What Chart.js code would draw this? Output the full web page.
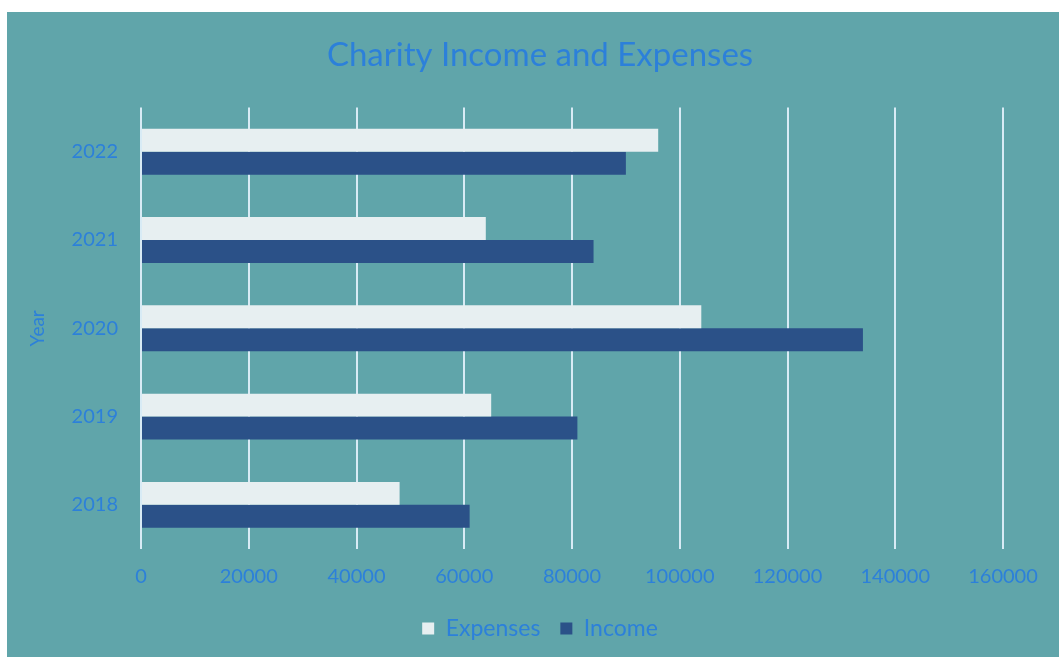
<!DOCTYPE html>
<html>
<head>
<meta charset="utf-8">
<script src="https://cdn.jsdelivr.net/npm/chart.js@4.4.1/dist/chart.umd.min.js"></script>
<style>
  html, body { margin: 0; padding: 0; background: #fff; }
  #wrap { position: absolute; left: 7px; top: 12px; width: 1052px; height: 645px; background: #60a5aa; }
</style>
</head>
<body>
<div id="wrap"><canvas id="chart"></canvas></div>
<script>
  // ---- data (top to bottom as shown)
  const years = ['2022', '2021', '2020', '2019', '2018'];
  const expenses = [96000, 64000, 104000, 65000, 48000];
  const income = [90000, 84000, 134000, 81000, 61000];
  const xMin = 0, xMax = 160000, xStep = 20000;

  const textBlue = '#2c80da';
  Chart.defaults.font.family = 'Lato, "Open Sans", sans-serif';
  Chart.defaults.color = textBlue;

  new Chart(document.getElementById('chart'), {
    type: 'bar',
    data: {
      labels: years,
      datasets: [
        { label: 'Expenses', data: expenses, backgroundColor: '#e7eff1', borderWidth: 0 },
        { label: 'Income', data: income, backgroundColor: '#2b5188', borderWidth: 0 }
      ]
    },
    options: {
      indexAxis: 'y',
      responsive: true, maintainAspectRatio: false,
      animation: false,
      layout: { padding: { top: 24, left: 14, right: 0, bottom: 7 } },
      datasets: { bar: { categoryPercentage: 0.52, barPercentage: 1.0 } },
      scales: {
        x: {
          min: xMin, max: xMax,
          ticks: { stepSize: xStep, padding: 16, font: { size: 20 }, callback: v => String(v) },
          grid: { color: '#d8ebf5', lineWidth: 2, drawTicks: false },
          border: { display: false },
          afterFit: s => { s.height = 48; }
        },
        y: {
          ticks: { padding: 23, font: { size: 20 } },
          grid: { display: false, drawTicks: false },
          border: { display: false },
          title: { display: true, text: 'Year', font: { size: 19 }, padding: { top: 5, bottom: 0 } },
          afterFit: s => { s.width = 120; }
        },
        // empty right-hand axis, only reserves the blank strip right of the plot
        yRight: {
          type: 'category', position: 'right',
          ticks: { display: false },
          grid: { display: false, drawTicks: false },
          border: { display: false },
          afterFit: s => { s.width = 56; }
        }
      },
      plugins: {
        title: {
          display: true, text: 'Charity Income and Expenses', color: textBlue,
          font: { size: 33, weight: 'normal' }, padding: { top: 0, bottom: 32 }
        },
        legend: {
          position: 'bottom',
          labels: { boxWidth: 12, boxHeight: 12, padding: 20, color: textBlue, font: { size: 23 } }
        },
        tooltip: { enabled: false }
      }
    }
  });
</script>
</body>
</html>
